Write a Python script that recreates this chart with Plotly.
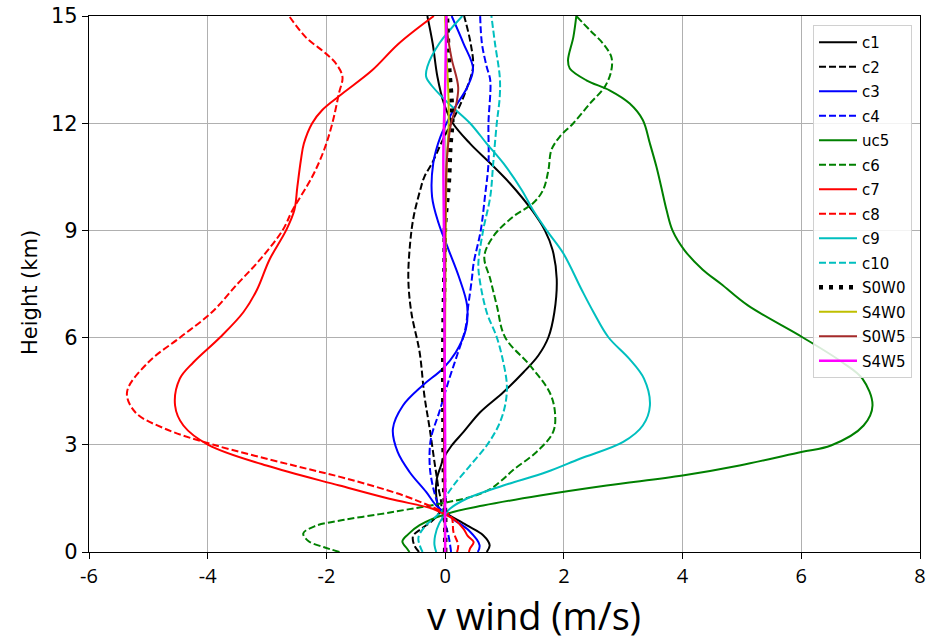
import plotly.graph_objects as go

# ---------------- data (height in km, v wind in m/s) ----------------
h_c1 = [0, 0.19, 0.47, 0.75, 1.07, 1.21, 1.58, 2.05, 2.42, 2.61, 2.98, 3.36, 3.91, 4.47, 5.03, 5.5, 6.01, 6.71, 7.64, 8.45, 9.0, 9.57, 10.32, 10.88, 11.43, 12.0, 12.55, 13.3, 14.23, 15]
v_c1 = [0.7, 0.75, 0.64, 0.36, 0.03, -0.1, -0.15, -0.14, -0.07, -0.03, 0.11, 0.31, 0.59, 0.98, 1.32, 1.57, 1.74, 1.84, 1.88, 1.81, 1.68, 1.46, 1.09, 0.76, 0.42, 0.13, -0.02, -0.13, -0.21, -0.3]

h_c2 = [0, 0.19, 0.45, 0.65, 0.9, 1.21, 1.86, 2.52, 3.45, 4.38, 5.59, 6.71, 7.64, 8.64, 9.39, 10.13, 10.5, 10.88, 11.5, 12.0, 12.5, 13.0, 13.58, 14.23, 15]
v_c2 = [-0.44, -0.52, -0.54, -0.4, -0.2, -0.07, -0.12, -0.18, -0.26, -0.35, -0.43, -0.57, -0.62, -0.59, -0.53, -0.42, -0.35, -0.22, -0.05, 0.1, 0.25, 0.37, 0.47, 0.43, 0.32]

h_c3 = [0, 0.19, 0.6, 0.9, 1.1, 1.3, 1.68, 2.24, 2.8, 3.45, 4.1, 4.66, 5.13, 5.59, 6.24, 6.9, 7.71, 8.45, 9.2, 9.94, 10.88, 11.62, 12.37, 13.0, 13.53, 14.23, 15]
v_c3 = [0.55, 0.58, 0.4, 0.15, 0.0, -0.15, -0.32, -0.6, -0.8, -0.88, -0.71, -0.38, -0.04, 0.18, 0.35, 0.37, 0.23, 0.06, -0.11, -0.22, -0.2, -0.08, 0.14, 0.37, 0.47, 0.31, 0.11]

h_c4 = [0, 0.5, 1.0, 1.21, 1.86, 2.42, 3.17, 3.91, 4.85, 5.5, 6.24, 6.9, 7.64, 8.08, 9.0, 9.94, 10.88, 12.0, 13.2, 13.58, 14.23, 15]
v_c4 = [0.1, 0.05, -0.05, -0.1, -0.21, -0.26, -0.24, -0.1, 0.07, 0.2, 0.34, 0.39, 0.45, 0.48, 0.6, 0.67, 0.73, 0.73, 0.76, 0.70, 0.62, 0.59]

h_uc5 = [0, 0.09, 0.3, 0.5, 0.75, 1.07, 1.3, 1.58, 1.86, 2.14, 2.42, 2.8, 2.98, 3.54, 4.1, 4.85, 5.31, 6.01, 6.9, 7.5, 7.9, 8.45, 9.0, 9.57, 10.22, 10.78, 11.43, 12.09, 12.55, 12.92, 13.2, 13.53, 13.76, 14.41, 15]
v_uc5 = [-0.6, -0.64, -0.72, -0.62, -0.43, 0.03, 0.64, 1.6, 2.72, 4.0, 4.96, 6.0, 6.5, 7.05, 7.2, 7.03, 6.69, 6.02, 5.1, 4.65, 4.34, 4.03, 3.83, 3.73, 3.64, 3.56, 3.45, 3.33, 3.11, 2.77, 2.38, 2.10, 2.07, 2.16, 2.21]

h_c6 = [0, 0.14, 0.3, 0.52, 0.72, 0.9, 1.06, 1.2, 1.38, 1.55, 1.75, 2.0, 2.3, 2.8, 3.36, 3.91, 4.47, 5.22, 6.01, 6.9, 7.64, 8.27, 8.83, 9.39, 9.76, 10.13, 10.69, 11.25, 11.62, 12.0, 12.55, 13.02, 13.48, 13.85, 14.23, 14.6, 15]
v_c6 = [-1.78, -2.05, -2.3, -2.39, -2.2, -1.7, -1.1, -0.6, 0.0, 0.45, 0.75, 0.95, 1.15, 1.54, 1.82, 1.85, 1.76, 1.43, 1.01, 0.87, 0.76, 0.66, 0.81, 1.15, 1.48, 1.65, 1.74, 1.79, 1.93, 2.16, 2.44, 2.69, 2.80, 2.80, 2.66, 2.44, 2.21]

h_c7 = [0, 0.1, 0.28, 0.45, 0.65, 0.93, 1.03, 1.21, 1.49, 1.86, 2.42, 3.0, 3.54, 4.1, 4.85, 5.31, 6.01, 6.71, 7.34, 8.18, 9.0, 9.57, 10.22, 10.97, 11.43, 12.0, 12.37, 12.83, 13.48, 14.23, 15]
v_c7 = [0.4, 0.42, 0.48, 0.38, 0.31, 0.14, 0.02, -0.21, -0.94, -1.78, -3.01, -3.99, -4.41, -4.55, -4.47, -4.24, -3.79, -3.40, -3.17, -2.96, -2.68, -2.54, -2.49, -2.43, -2.38, -2.24, -2.07, -1.73, -1.23, -0.78, -0.19]

h_c8 = [0, 0.19, 0.56, 1.0, 1.21, 1.58, 2.05, 2.42, 3.0, 3.45, 3.91, 4.47, 5.31, 6.01, 6.71, 7.5, 8.18, 9.0, 9.57, 10.5, 11.25, 12.0, 12.83, 13.3, 13.67, 13.95, 14.41, 15]
v_c8 = [0.2, 0.22, 0.14, 0.1, -0.15, -0.7, -1.65, -2.55, -3.9, -4.72, -5.22, -5.36, -5.0, -4.46, -3.93, -3.5, -3.12, -2.74, -2.57, -2.24, -2.04, -1.90, -1.79, -1.73, -1.84, -2.01, -2.35, -2.63]

h_c9 = [0, 0.2, 0.45, 0.8, 1.05, 1.21, 1.49, 1.86, 2.24, 2.61, 3.08, 3.54, 4.1, 4.85, 5.41, 6.01, 6.71, 7.34, 8.36, 9.0, 9.57, 10.13, 10.88, 11.43, 12.0, 12.55, 13.02, 13.3, 13.58, 14.23, 15]
v_c9 = [-0.15, -0.18, -0.17, -0.1, 0.0, 0.08, 0.36, 0.98, 1.71, 2.27, 3.0, 3.33, 3.45, 3.35, 3.1, 2.75, 2.5, 2.30, 1.99, 1.71, 1.48, 1.29, 0.98, 0.70, 0.42, 0.06, -0.21, -0.32, -0.3, -0.1, 0.29]

h_c10 = [0, 0.15, 0.4, 0.7, 1.0, 1.2, 1.49, 1.86, 2.42, 2.98, 3.54, 4.1, 4.66, 5.31, 6.01, 6.71, 7.64, 8.08, 9.0, 9.94, 10.88, 12.0, 12.74, 13.3, 14.23, 15]
v_c10 = [-0.38, -0.42, -0.45, -0.35, -0.15, -0.03, 0.0, 0.14, 0.42, 0.7, 0.9, 1.01, 1.04, 0.98, 0.87, 0.7, 0.58, 0.56, 0.64, 0.76, 0.81, 0.87, 0.92, 0.92, 0.84, 0.78]

h_s0w0 = [0, 1, 2, 4, 6, 8, 9.2, 10.3, 11.4, 12.0, 12.6, 13.5, 14.2, 15]
v_s0w0 = [0.0, 0.0, -0.02, -0.03, -0.03, -0.01, 0.0, 0.06, 0.09, 0.12, 0.11, 0.07, 0.05, 0.03]

h_s4w0 = [0, 3, 6, 9, 11, 12, 13, 14, 15]
v_s4w0 = [0.0, -0.01, 0.0, 0.01, 0.03, 0.06, 0.05, 0.02, 0.0]

h_s0w5 = [0, 3, 6, 9, 11, 12, 12.4, 13.0, 13.8, 14.5, 15]
v_s0w5 = [0.0, -0.02, -0.01, 0.0, 0.03, 0.1, 0.17, 0.22, 0.11, 0.04, 0.02]

h_s4w5 = [0, 3, 6, 9, 11, 12, 13, 14, 15]
v_s4w5 = [0.0, 0.0, -0.01, -0.02, -0.03, -0.02, 0.0, 0.01, 0.02]

names = ["c1", "c2", "c3", "c4", "uc5", "c6", "c7", "c8", "c9", "c10", "S0W0", "S4W0", "S0W5", "S4W5"]
heights = [h_c1, h_c2, h_c3, h_c4, h_uc5, h_c6, h_c7, h_c8, h_c9, h_c10, h_s0w0, h_s4w0, h_s0w5, h_s4w5]
winds = [v_c1, v_c2, v_c3, v_c4, v_uc5, v_c6, v_c7, v_c8, v_c9, v_c10, v_s0w0, v_s4w0, v_s0w5, v_s4w5]

x_ticks = [-6, -4, -2, 0, 2, 4, 6, 8]
y_ticks = [0, 3, 6, 9, 12, 15]

# ---------------- styles ----------------
DASH = "7px,3px"
styles = [
    dict(color="#000000", dash="solid", width=2),
    dict(color="#000000", dash=DASH, width=2),
    dict(color="#0000ff", dash="solid", width=2),
    dict(color="#0000ff", dash=DASH, width=2),
    dict(color="#008000", dash="solid", width=2),
    dict(color="#008000", dash=DASH, width=2),
    dict(color="#ff0000", dash="solid", width=2),
    dict(color="#ff0000", dash=DASH, width=2),
    dict(color="#00bfbf", dash="solid", width=2),
    dict(color="#00bfbf", dash=DASH, width=2),
    dict(color="#000000", dash="4px,6px", width=4.5),
    dict(color="#bfbf00", dash="solid", width=2),
    dict(color="#a52a2a", dash="solid", width=2),
    dict(color="#ff00ff", dash="solid", width=2.5),
]

fig = go.Figure()
for n, h, v, st in zip(names, heights, winds, styles):
    fig.add_trace(go.Scatter(
        x=v, y=h, mode="lines", name=n, legendgroup=n,
        line=dict(color=st["color"], dash=st["dash"], width=st["width"],
                  shape="spline", smoothing=1.0),
    ))

narrow = "Liberation Sans Narrow, Arial Narrow, Open Sans, sans-serif"
tickfont_x = dict(family=narrow, size=20, color="#000000")
tickfont_y = dict(family="DejaVu Sans, sans-serif", size=21, color="#000000")

L, R, T, B = 89, 13, 16, 88
pw, ph = 933 - L - R, 640 - T - B

fig.update_layout(
    width=933, height=640,
    margin=dict(l=L, r=R, t=T, b=B, autoexpand=False),
    paper_bgcolor="#ffffff", plot_bgcolor="#ffffff",
    showlegend=True,
    legend=dict(
        x=(912 - L) / pw, y=(640 - B - 25) / ph, xanchor="right", yanchor="top",
        bgcolor="rgba(255,255,255,0.85)", bordercolor="#d0d0d0", borderwidth=1,
        font=dict(family="DejaVu Sans, sans-serif", size=15, color="#000000"),
        tracegroupgap=2, itemwidth=38,
    ),
    xaxis=dict(
        range=[-6, 8], tickvals=x_ticks, ticktext=[str(t) for t in x_ticks],
        showgrid=True, gridcolor="#b0b0b0", gridwidth=1,
        showline=True, linecolor="#000000", linewidth=1.2, mirror=True,
        ticks="outside", ticklen=6, tickcolor="#000000", tickfont=tickfont_x,
        zeroline=False, automargin=False,
    ),
    yaxis=dict(
        range=[0, 15], tickvals=y_ticks, ticktext=[str(t) for t in y_ticks],
        showgrid=True, gridcolor="#b0b0b0", gridwidth=1,
        showline=True, linecolor="#000000", linewidth=1.2, mirror=True,
        ticks="outside", ticklen=6, tickcolor="#000000", tickfont=tickfont_y,
        zeroline=False, automargin=False,
    ),
    annotations=[
        dict(
            text="v wind (m/s)", xref="paper", yref="paper",
            x=(534 - L) / pw, y=-(615 - (640 - B)) / ph, xanchor="center", yanchor="middle",
            showarrow=False,
            font=dict(family=narrow, size=38, color="#000000"),
        ),
        dict(
            text="Height (km)", xref="paper", yref="paper", textangle=-90,
            x=-(L - 30) / pw, y=(640 - B - 292) / ph, xanchor="center", yanchor="middle",
            showarrow=False,
            font=dict(family="DejaVu Sans, sans-serif", size=21, color="#000000"),
        ),
    ],
)

fig.write_html("out.html")
